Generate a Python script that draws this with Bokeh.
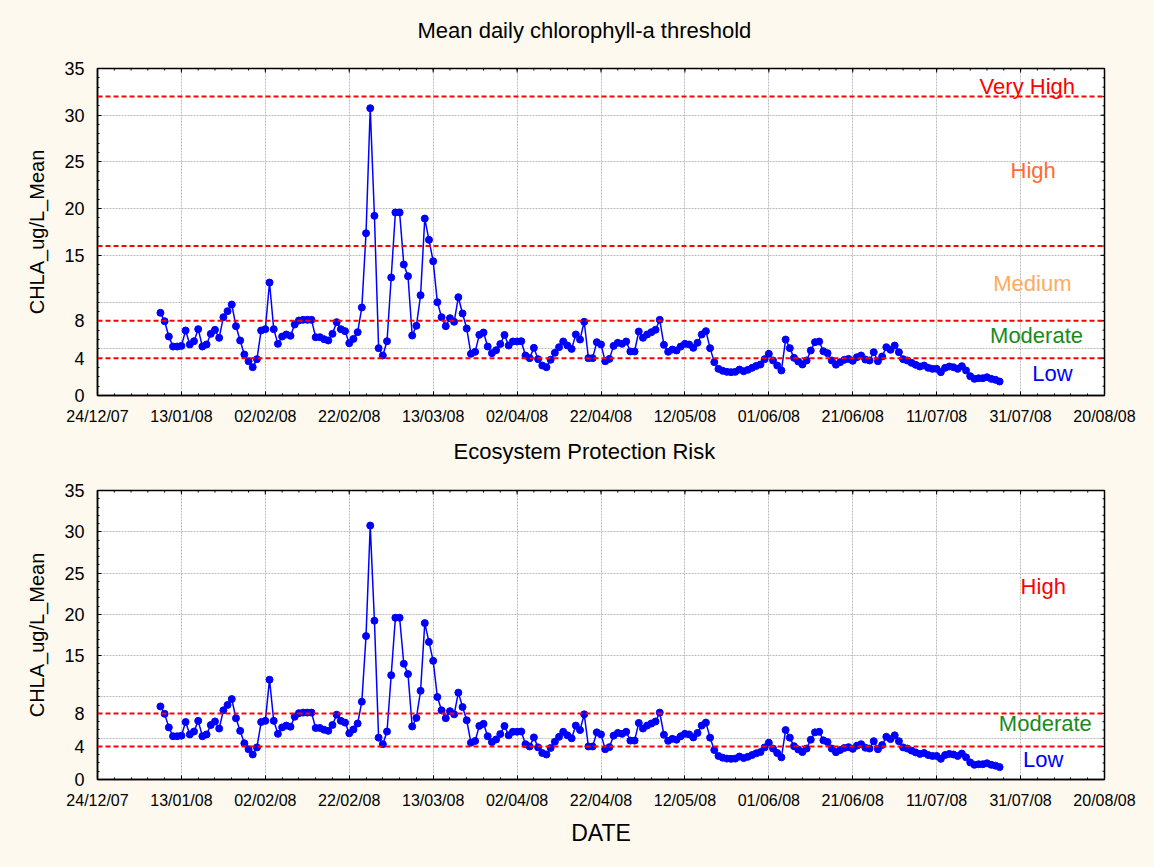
import math
import pandas as pd
from bokeh.plotting import figure
from bokeh.layouts import column
from bokeh.core.properties import value
from bokeh.models import (Range1d, FixedTicker, DatetimeTickFormatter, Span,
                          ColumnDataSource, Label)
from bokeh.embed import file_html
from bokeh.resources import INLINE

# ---------------- data ----------------
start_date = "2008-01-08"
chla_mean = [
    8.85, 7.95, 6.31, 5.24, 5.24, 5.31, 6.96, 5.46, 5.81, 7.10,
    5.24, 5.46, 6.60, 7.03, 6.17, 8.38, 9.03, 9.74, 7.42, 5.89,
    4.39, 3.67, 3.03, 3.89, 6.96, 7.10, 12.09, 7.10, 5.53, 6.31,
    6.53, 6.39, 7.60, 8.03, 8.10, 8.10, 8.10, 6.24, 6.24, 6.03,
    5.89, 6.60, 7.85, 7.10, 6.89, 5.60, 6.06, 6.78, 9.42, 17.37,
    30.75, 19.23, 5.07, 4.28, 5.81, 12.63, 19.59, 19.59, 14.02, 12.77,
    6.42, 7.46, 10.74, 18.94, 16.66, 14.37, 9.99, 8.38, 7.42, 8.28,
    7.89, 10.52, 8.78, 7.17, 4.46, 4.67, 6.49, 6.74, 5.24, 4.53,
    4.85, 5.50, 6.48, 5.35, 5.78, 5.78, 5.81, 4.28, 4.00, 5.10,
    3.89, 3.21, 3.03, 3.82, 4.57, 5.17, 5.78, 5.35, 4.99, 6.53,
    5.99, 7.89, 4.00, 4.00, 5.71, 5.46, 3.67, 3.92, 5.31, 5.64,
    5.53, 5.78, 4.71, 4.71, 6.85, 6.17, 6.53, 6.78, 7.03, 8.10,
    5.42, 4.68, 4.92, 4.82, 5.24, 5.53, 5.46, 5.10, 5.64, 6.53,
    6.89, 5.07, 3.57, 2.85, 2.64, 2.53, 2.50, 2.53, 2.78, 2.60,
    2.75, 2.96, 3.17, 3.32, 3.89, 4.46, 3.75, 3.21, 2.68, 5.99,
    5.07, 4.03, 3.64, 3.32, 3.75, 4.82, 5.71, 5.78, 4.74, 4.53,
    3.75, 3.30, 3.57, 3.82, 3.92, 3.71, 4.10, 4.28, 3.85, 3.75,
    4.64, 3.67, 4.17, 5.17, 4.89, 5.35, 4.64, 3.89, 3.75, 3.50,
    3.28, 3.10, 3.21, 2.96, 2.85, 2.85, 2.50, 2.96, 3.10, 3.03,
    2.85, 3.14, 2.68, 2.07, 1.78, 1.85, 1.85, 1.96, 1.78, 1.68,
    1.50,
]
x_start, x_end = "2007-12-24", "2008-08-20"
y_tick_values = [0, 4, 8, 15, 20, 25, 30, 35]

top_title = "Mean daily chlorophyll-a threshold"
top_thresholds = [4, 8, 16, 32]
top_levels = ["Very High", "High", "Medium", "Moderate", "Low"]
top_level_colors = ["#FF0000", "#FF6A33", "#FFAA5E", "#1A8A1A", "#0000FF"]

bottom_title = "Ecosystem Protection Risk"
bottom_thresholds = [4, 8]
bottom_levels = ["High", "Moderate", "Low"]
bottom_level_colors = ["#FF0000", "#1A8A1A", "#0000FF"]

y_label = "CHLA_ug/L_Mean"
x_label = "DATE"

# ---------------- styling ----------------
BG = "#FDF9EE"
FONT = "Liberation Sans"
W = 1154

dates = pd.date_range(start_date, periods=len(chla_mean), freq="D")
source = ColumnDataSource(dict(date=dates, chla=chla_mean))

t0 = pd.Timestamp(x_start)
t1 = pd.Timestamp(x_end)


def ms(ts):
    return ts.value / 1e6


major_x = [ms(t) for t in pd.date_range(t0, t1, freq="20D")]
minor_x = [ms(t) for t in pd.date_range(t0, t1, freq="4D")]
minor_y = list(range(0, 36))
fmt = "%d/%m/%y"


def day_pos(d):
    return ms(t0 + pd.Timedelta(days=d))


def title_strip(text, height, cx, cy_from_top):
    """A thin, axis-less strip that carries a panel title."""
    t = figure(width=W, height=height, x_range=Range1d(0, W), y_range=Range1d(0, height),
               output_backend="svg", toolbar_location=None, title=None,
               x_axis_location=None, y_axis_location=None,
               min_border=0, min_border_left=0, min_border_right=0,
               min_border_top=0, min_border_bottom=0,
               background_fill_color=BG, border_fill_color=BG, outline_line_color=None)
    t.xgrid.visible = False
    t.ygrid.visible = False
    t.text(x=[cx], y=[height - cy_from_top], text=[text], text_font=value(FONT),
           text_font_size="22px", text_color="black", text_align="center",
           text_baseline="middle")
    return t


def make_panel(thresholds, levels, colors, label_pos, height, btop, bbottom, xlabel):
    p = figure(width=W, height=height, x_axis_type="datetime",
               x_range=Range1d(ms(t0), ms(t1)), y_range=Range1d(0, 35),
               output_backend="svg", toolbar_location=None, title=None,
               min_border_left=97, min_border_right=50,
               min_border_top=btop, min_border_bottom=bbottom,
               background_fill_color="white", border_fill_color=BG,
               outline_line_color="black", outline_line_width=1.5)

    xt = FixedTicker(ticks=major_x, minor_ticks=minor_x)
    yt = FixedTicker(ticks=y_tick_values, minor_ticks=minor_y)

    xa = p.xaxis[0]
    xa.ticker = xt
    xa.formatter = DatetimeTickFormatter(days=fmt, months=fmt, years=fmt, hours=fmt,
                                         hourmin=fmt, minutes=fmt, seconds=fmt)
    ya = p.yaxis[0]
    ya.ticker = yt
    for ax in (xa, ya):
        ax.major_tick_in = 4
        ax.major_tick_out = 0
        ax.minor_tick_in = 2
        ax.minor_tick_out = 0
        ax.axis_line_color = "black"
        ax.axis_line_width = 1.5
        ax.major_tick_line_color = "black"
        ax.minor_tick_line_color = "black"
        ax.major_label_text_font = FONT
        ax.major_label_text_color = "black"
        ax.axis_label_text_font = FONT
        ax.axis_label_text_font_style = "normal"
        ax.axis_label_text_color = "black"
    xa.major_label_text_font_size = "16px"
    xa.major_label_standoff = 12
    ya.major_label_text_font_size = "18px"
    ya.major_label_standoff = 13
    ya.axis_label = y_label
    ya.axis_label_text_font_size = "20px"
    ya.axis_label_standoff = 13
    if xlabel:
        xa.axis_label = xlabel
        xa.axis_label_text_font_size = "23px"
        xa.axis_label_standoff = 8

    p.xgrid.ticker = xt
    p.ygrid.ticker = FixedTicker(ticks=[5, 10, 15, 20, 25, 30])
    for g in (p.xgrid, p.ygrid):
        g.grid_line_color = "#BDBDBD"
        g.grid_line_dash = "2 1"
        g.grid_line_width = 1

    # mirrored tick marks on the top and right frame edges (half clipped by the frame)
    p.scatter(x=major_x, y=[35] * len(major_x), marker="dash", size=8,
              angle=math.pi / 2, line_color="black", line_width=1)
    p.scatter(x=minor_x, y=[35] * len(minor_x), marker="dash", size=4,
              angle=math.pi / 2, line_color="black", line_width=1)
    p.scatter(x=[ms(t1)] * len(y_tick_values), y=y_tick_values, marker="dash", size=8,
              line_color="black", line_width=1)
    p.scatter(x=[ms(t1)] * len(minor_y), y=minor_y, marker="dash", size=4,
              line_color="black", line_width=1)

    for t in thresholds:
        p.add_layout(Span(location=t, dimension="width", line_color="#FF0000",
                          line_dash="5 3", line_width=2))

    p.line(x="date", y="chla", source=source, line_color="#0000FF", line_width=1.5)
    p.scatter(x="date", y="chla", source=source, size=7, fill_color="#0000FF",
              line_color="#0000FF")

    for name, col, (d, yv) in zip(levels, colors, label_pos):
        p.add_layout(Label(x=day_pos(d), y=yv, text=name, text_color=col, text_font=FONT,
                           text_font_size="22px", text_align="center",
                           text_baseline="middle"))
    return p


t_top = title_strip(top_title, 60, 558, 30)
p1 = make_panel(top_thresholds, top_levels, top_level_colors,
                [(221.6, 33.1), (223.0, 24.1), (222.8, 12.0), (223.8, 6.4), (227.6, 2.35)],
                height=372, btop=8, bbottom=37, xlabel=None)
t_bot = title_strip(bottom_title, 48, 558, 19)
p2 = make_panel(bottom_thresholds, bottom_levels, bottom_level_colors,
                [(225.4, 23.4), (225.9, 6.8), (225.4, 2.4)],
                height=387, btop=10, bbottom=88, xlabel=x_label)

layout = column(t_top, p1, t_bot, p2, spacing=0, styles={"background-color": BG})
open("out.html", "w").write(file_html(layout, INLINE))
